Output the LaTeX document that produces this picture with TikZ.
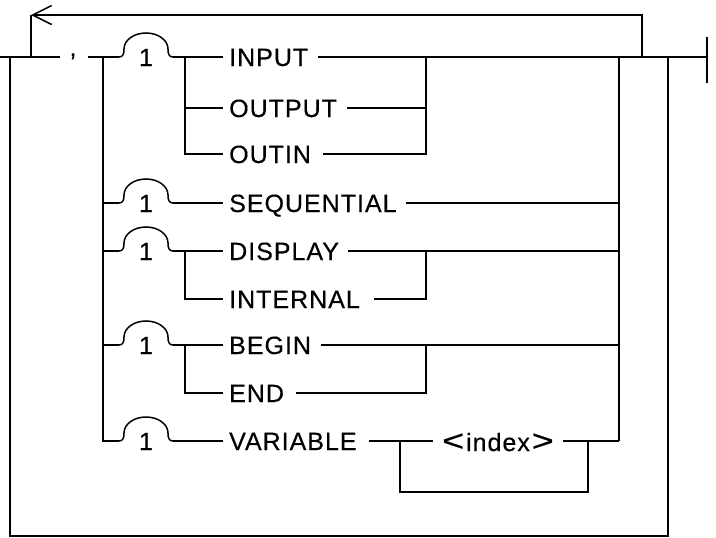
\documentclass[tikz,border=0pt]{standalone}
\usepackage{fontspec}
\usepackage{graphicx}
\usetikzlibrary{arrows.meta}
\newfontfamily\kwfamily[LetterSpace=4,FakeBold=0.4]{Liberation Sans}
\newfontfamily\onefamily[FakeBold=0.5]{Liberation Sans}
\newcommand\kwf{\kwfamily\fontsize{25}{29}\selectfont}
\newcommand\onef{\onefamily\fontsize{25}{29}\selectfont}
\newcommand\angl[1]{\scalebox{1.5}[1.2]{#1}}
\begin{document}
\begin{tikzpicture}[x=1pt,y=-1pt,
  rr/.style={line width=1.5pt},
  kw/.style={font=\kwf, inner sep=0pt, anchor=west, text height=18pt, text depth=0pt},
  bump/.pic={
    \draw[rr] (0,0) .. controls (4,0) and (5,-3) .. (5,-8)
      .. controls (5,-16.8) and (14.8,-24) .. (27,-24)
      .. controls (39.2,-24) and (49,-16.8) .. (49,-8)
      .. controls (49,-3) and (50,0) .. (54,0);
    \node[font=\onef, inner sep=0pt] at (27,0.5) {1};
  }]
\useasboundingbox (0,0) rectangle (716,538);

% ---- coordinates of the frame
\coordinate (L0) at (0,57);
\coordinate (Lc) at (60,57);
\coordinate (Ld) at (88,57);
\coordinate (Lv) at (103,57);
\coordinate (Rv) at (619,57);
\coordinate (Rl) at (642,57);
\coordinate (Ro) at (668,57);
\coordinate (Re) at (707,57);
\coordinate (Top) at (31,15);
\coordinate (Lb) at (31,57);
\coordinate (Lo) at (10,57);

% ---- comma
\node[font=\kwf, inner sep=0pt, anchor=base] (comma) at (73,56) {,};

% ---- keywords
\node[kw] (input) at (229,57) {INPUT};
\node[kw] (output) at (229,108) {OUTPUT};
\node[kw] (outin) at (229,154) {OUTIN};
\node[kw] (seq) at (229,203) {SEQUENTIAL};
\node[kw] (disp) at (229,251) {DISPLAY};
\node[kw] (intl) at (229,299) {INTERNAL};
\node[kw] (begin) at (229,345) {BEGIN};
\node[kw] (end) at (229,393) {END};
\node[kw] (var) at (229,441) {VARIABLE};
\node[kw] (idx) at (442,442) {\angl{<}\kern2pt index\kern2pt\angl{>}};

% ---- bumps
\pic at (119,57) {bump};
\pic at (119,203) {bump};
\pic at (119,251) {bump};
\pic at (119,345) {bump};
\pic at (119,441) {bump};

% ---- main line, left part
\draw[rr] (L0) -- (Lc);
\draw[rr] (Ld) -- (119,57);
\draw[rr] (Lo) -- (10,536) -| (Ro);
\draw[rr] (Lv) |- (119,441);
\draw[rr] (103,203) -- (119,203);
\draw[rr] (103,251) -- (119,251);
\draw[rr] (103,345) -- (119,345);

% ---- loop back with arrow
\draw[rr, -{Straight Barb[length=19pt,width=19pt]}] (Rl) |- (Top);
\draw[rr] (Top) -- (Lb);

% ---- group 1
\draw[rr] (173,57) -- ([xshift=-6pt]input.west);
\draw[rr] (185,57) |- ([xshift=-6pt]outin.west);
\draw[rr] (185,108) -- ([xshift=-6pt]output.west);
\draw[rr] ([xshift=10pt]input.east) -- (Re);
\draw[rr] ([xshift=10pt]output.east) -- (426,108);
\draw[rr] ([xshift=12pt]outin.east) -- (426,154) -- (426,57);

% ---- sequential
\draw[rr] (173,203) -- ([xshift=-6pt]seq.west);
\draw[rr] ([xshift=9pt]seq.east) -- (619,203);

% ---- display / internal
\draw[rr] (173,251) -- ([xshift=-6pt]disp.west);
\draw[rr] (185,251) |- ([xshift=-6pt]intl.west);
\draw[rr] ([xshift=9pt]disp.east) -- (619,251);
\draw[rr] ([xshift=14pt]intl.east) -| (426,251);

% ---- begin / end
\draw[rr] (173,345) -- ([xshift=-6pt]begin.west);
\draw[rr] (185,345) |- ([xshift=-6pt]end.west);
\draw[rr] ([xshift=10pt]begin.east) -- (619,345);
\draw[rr] ([xshift=12pt]end.east) -| (426,345);

% ---- variable
\draw[rr] (173,441) -- ([xshift=-6pt]var.west);
\draw[rr] ([xshift=12pt]var.east) -- ([xshift=-9pt]idx.west |- 0,441);
\draw[rr] ([xshift=9pt]idx.east |- 0,441) -- (619,441);
\draw[rr] (400,441) |- (588,492) -- (588,441);

% ---- right verticals and end
\draw[rr] (Rv) -- (619,441);
\draw[rr] (707,37) -- (707,83);
\end{tikzpicture}
\end{document}
